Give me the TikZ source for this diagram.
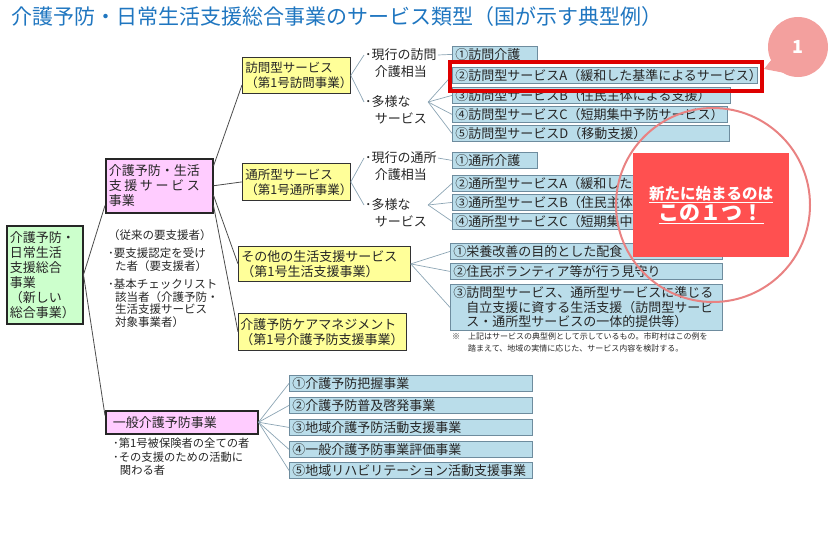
\documentclass[tikz,border=0pt]{standalone}
\usepackage{fontspec}
\setmainfont{Noto Sans CJK JP}
\usepackage{tikz}
\usetikzlibrary{calc}

\definecolor{ttlblue}{RGB}{31,118,192}
\definecolor{boxgreen}{RGB}{204,255,204}
\definecolor{boxpink}{RGB}{255,204,255}
\definecolor{boxyel}{RGB}{255,255,153}
\definecolor{boxblue}{RGB}{186,221,234}
\definecolor{edgeblue}{RGB}{110,140,158}
\definecolor{linkgray}{RGB}{140,165,180}
\definecolor{hired}{RGB}{222,0,0}
\definecolor{newred}{RGB}{255,80,80}
\definecolor{ringred}{RGB}{233,130,130}
\definecolor{tagpink}{RGB}{243,160,158}

\tikzset{
  cell/.style={draw,anchor=north west,align=left,inner xsep=3pt,inner ysep=0pt,text=black!85},
  greenbox/.style={cell,fill=boxgreen,draw=black!85,line width=1.5pt,font=\fontsize{13}{15}\selectfont},
  pinkbox/.style={cell,fill=boxpink,draw=black!85,line width=1.5pt,font=\fontsize{13}{15}\selectfont},
  yelbox/.style={cell,fill=boxyel,draw=black!80,line width=0.8pt,font=\fontsize{12.5}{15}\selectfont},
  bluebox/.style={cell,fill=boxblue,draw=edgeblue,line width=0.8pt,minimum height=16pt,font=\fontsize{13}{15}\selectfont},
  lbl/.style={anchor=north west,align=left,inner sep=0pt,text=black!85,font=\fontsize{13}{17}\selectfont},
  link/.style={draw=black!70,line width=0.8pt},
  sublink/.style={draw=linkgray,line width=0.7pt},
}

\begin{document}
\begin{tikzpicture}[x=1pt,y=-1pt]
  \useasboundingbox (0,0) rectangle (836,555);
  \node(ttl)[anchor=west,inner sep=0pt,text=ttlblue,font=\fontsize{21}{24}\selectfont] at (11,17) {介護予防・日常生活支援総合事業のサービス類型（国が示す典型例）};

  \node(g)[greenbox,text width=70pt,minimum height=98pt] at (6,225) {介護予防・\\日常生活\\支援総合\\事業\\（新しい\\総合事業）};
  \node(p1)[pinkbox,text width=101pt,minimum height=54pt] at (105,158) {介護予防・生活\\\makebox[7em][s]{支\hfill 援\hfill サ\hfill ー\hfill ビ\hfill ス}\\事業};
  \node(p2)[pinkbox,inner xsep=7pt,text width=138pt,minimum height=23pt] at (105,410) {一般介護予防事業};
  \node(note1)[lbl,font=\fontsize{11.5}{12.5}\selectfont] at (108,229) {（従来の要支援者）\\[6pt]･要支援認定を受け\\\hspace*{0.6em}た者（要支援者）\\[6pt]･基本チェックリスト\\\hspace*{0.6em}該当者（介護予防・\\\hspace*{0.6em}生活支援サービス\\\hspace*{0.6em}対象事業者）};
  \node(note2)[lbl,font=\fontsize{11.3}{13.5}\selectfont] at (113,438) {･第1号被保険者の全ての者\\･その支援のための活動に\\\hspace*{0.6em}関わる者};

  \node(y1)[yelbox,text width=102pt,minimum height=36pt] at (242,57) {訪問型サービス\\（第1号訪問事業）};
  \node(y2)[yelbox,text width=102pt,minimum height=37pt] at (242,163) {通所型サービス\\（第1号通所事業）};
  \node(y3)[yelbox,font=\fontsize{13}{15}\selectfont,text width=166pt,minimum height=35pt] at (238,246) {その他の生活支援サービス\\（第1号生活支援事業）};
  \node(y4)[yelbox,font=\fontsize{13}{15}\selectfont,inner xsep=2pt,text width=164pt,minimum height=37pt] at (238,313) {介護予防ケアマネジメント\\（第1号介護予防支援事業）};

  \node(l1)[lbl] at (365,48) {･現行の訪問\\\hspace*{0.75em}介護相当};
  \node(l2)[lbl] at (365,95) {･多様な\\\hspace*{0.75em}サービス};
  \node(l3)[lbl] at (365,151) {･現行の通所\\\hspace*{0.75em}介護相当};
  \node(l4)[lbl] at (365,198) {･多様な\\\hspace*{0.75em}サービス};

  \node(hb1)[bluebox,text width=79pt] at (452,46) {①訪問介護};
  \node(hb2)[bluebox,text width=299pt] at (452,67) {②訪問型サービスA（緩和した基準によるサービス）};
  \node(hb3)[bluebox,text width=272pt] at (452,87) {③訪問型サービスB（住民主体による支援）};
  \node(hb4)[bluebox,text width=269pt] at (452,106) {④訪問型サービスC（短期集中予防サービス）};
  \node(hb5)[bluebox,text width=271pt] at (452,125) {⑤訪問型サービスD（移動支援）};

  \node(tb1)[bluebox,text width=79pt] at (452,152) {①通所介護};
  \node(tb2)[bluebox,text width=299pt] at (452,175) {②通所型サービスA（緩和した基準によるサービス）};
  \node(tb3)[bluebox,text width=272pt] at (452,194) {③通所型サービスB（住民主体による支援）};
  \node(tb4)[bluebox,text width=269pt] at (452,213) {④通所型サービスC（短期集中予防サービス）};

  \node(ob1)[bluebox,text width=266pt] at (450,243) {①栄養改善の目的とした配食};
  \node(ob2)[bluebox,text width=266pt] at (450,263) {②住民ボランティア等が行う見守り};
  \node(ob3)[bluebox,font=\fontsize{13}{14.5}\selectfont,text width=266pt,minimum height=46pt] at (450,284) {③訪問型サービス、通所型サービスに準じる\\\hspace*{1em}自立支援に資する生活支援（訪問型サービ\\\hspace*{1em}ス・通所型サービスの一体的提供等）};
  \node(fn)[lbl,font=\fontsize{8}{12}\selectfont] at (452,333) {※\hspace{1em}上記はサービスの典型例として示しているもの。市町村はこの例を\\\hspace*{2em}踏まえて、地域の実情に応じた、サービス内容を検討する。};

  \node(gb1)[bluebox,text width=237pt] at (289,375) {①介護予防把握事業};
  \node(gb2)[bluebox,text width=237pt] at (289,397) {②介護予防普及啓発事業};
  \node(gb3)[bluebox,text width=237pt] at (289,419) {③地域介護予防活動支援事業};
  \node(gb4)[bluebox,text width=237pt] at (289,441) {④一般介護予防事業評価事業};
  \node(gb5)[bluebox,text width=237pt] at (289,462) {⑤地域リハビリテーション活動支援事業};

  \draw[link] (g.east) -- (p1.200);
  \draw[link] (g.east) -- (p2.175);
  \draw[link] (p1.20) -- (y1.190);
  \draw[link] (p1.east) -- (y2.west);
  \draw[link] (p1.-10) -- (y3.west);
  \draw[link] (p1.-20) -- (y4.west);

  \draw[sublink] (y1.east) -- ($(l1.north west)+(-1,7)$);
  \draw[sublink] (y1.east) -- ($(l2.north west)+(-1,7)$);
  \draw[sublink] ($(l1.north east)+(1,7)$) -- (hb1.west);
  \foreach \b in {hb2,hb3,hb4,hb5}
    \draw[sublink] ($(l2.north east)+(1,7)$) -- (\b.west);
  \draw[sublink] (y2.east) -- ($(l3.north west)+(-1,7)$);
  \draw[sublink] (y2.east) -- ($(l4.north west)+(-1,7)$);
  \draw[sublink] ($(l3.north east)+(1,7)$) -- (tb1.west);
  \foreach \b in {tb2,tb3,tb4}
    \draw[sublink] ($(l4.north east)+(1,7)$) -- (\b.west);
  \foreach \b in {ob1,ob2,ob3}
    \draw[sublink] (y3.east) -- (\b.west);
  \foreach \b in {gb1,gb2,gb3,gb4,gb5}
    \draw[sublink] (p2.east) -- (\b.west);

  \draw[hired,line width=4pt] (449.5,61.5) rectangle (761.5,90.5);
  \fill[tagpink] (772,59) -- (764,69) -- (785,73) -- cycle;
  \node(tag)[circle,fill=tagpink,minimum size=60pt,inner sep=0pt,text=white,font=\bfseries\fontsize{18}{20}\selectfont] at (798,47) {1};

  \draw[ringred,line width=2pt] (713,205) circle[radius=97pt];
  \node(nw)[fill=newred,minimum width=156pt,minimum height=104pt,align=center,text=white,font=\bfseries] at (711,205) {{\fontsize{15.5}{18}\selectfont\underline{新たに始まるのは}}\\[1pt]{\fontsize{21}{24}\selectfont\underline{この１つ！}}};
\end{tikzpicture}
\end{document}
